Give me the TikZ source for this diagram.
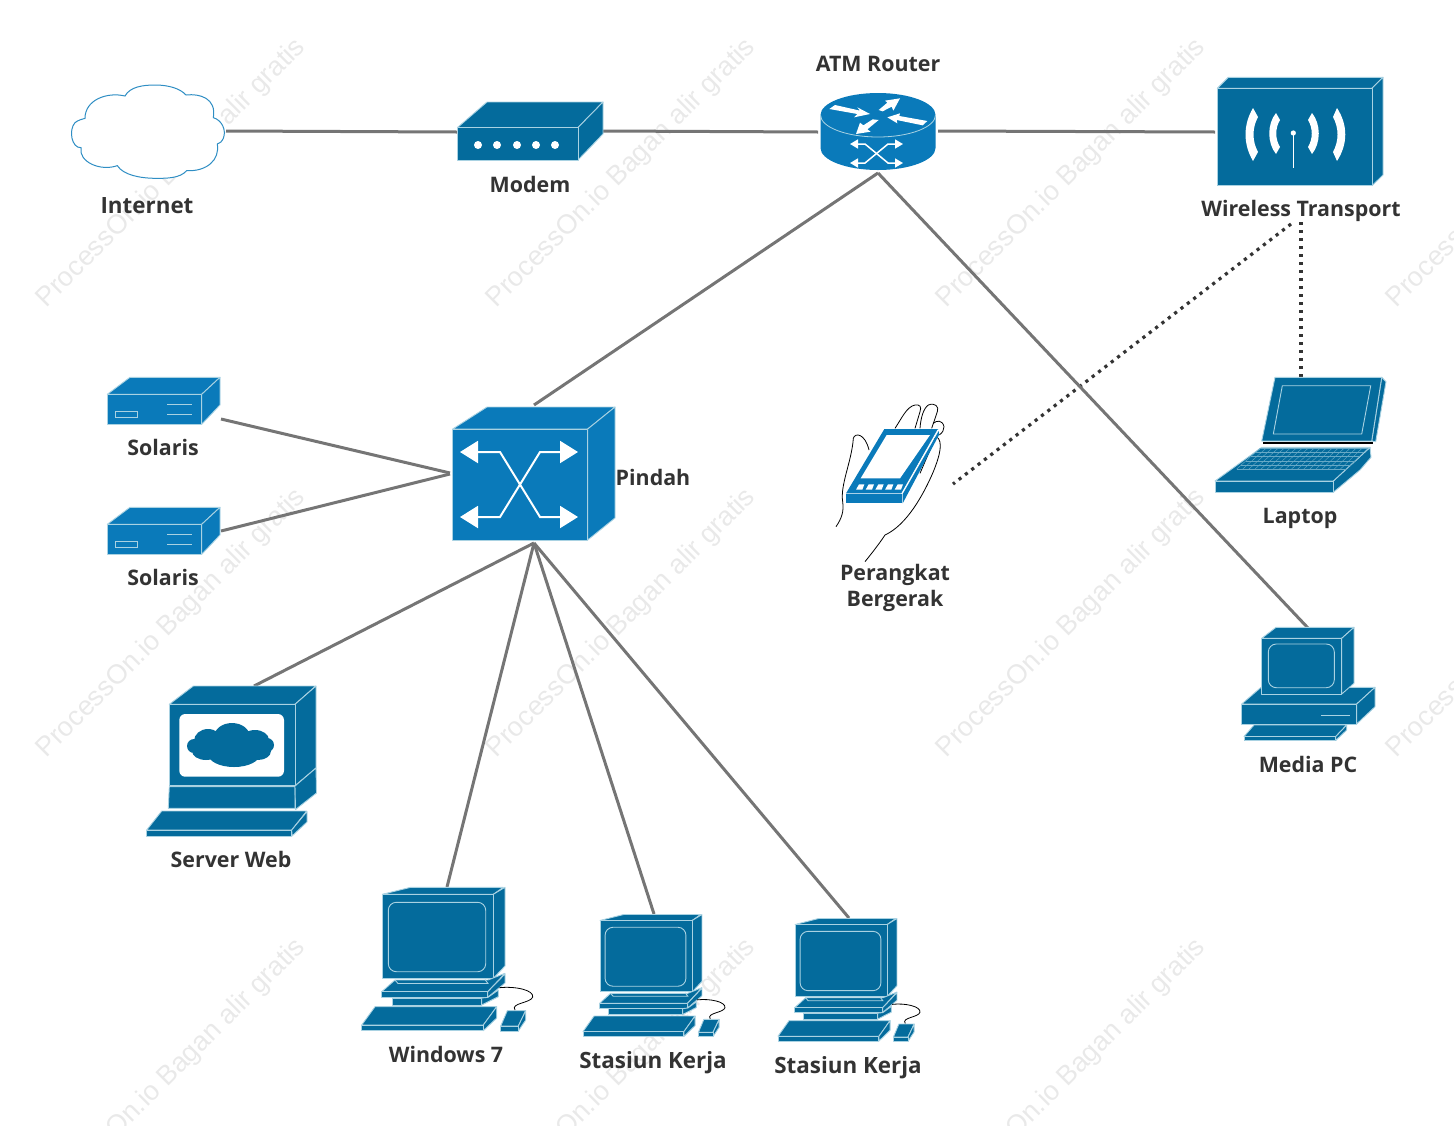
\documentclass[tikz,border=0pt]{standalone}
\usepackage{fontspec}
\setmainfont{Open Sans}
\newfontfamily\wmfont{Liberation Sans}
\usetikzlibrary{arrows.meta}
\definecolor{devblue}{HTML}{046B9C}
\definecolor{swblue}{HTML}{0A7ABA}
\definecolor{edgeblue}{HTML}{A9D2E2}
\definecolor{linkgray}{HTML}{757575}
\definecolor{labelgray}{HTML}{333333}
\definecolor{wmgray}{HTML}{E9E9E9}
\tikzset{
 dev/.style={fill=devblue,draw=edgeblue,line width=.45pt,line join=round},
 swdev/.style={fill=swblue,draw=edgeblue,line width=.45pt,line join=round},
 thinw/.style={draw=edgeblue,line width=.45pt},
 link/.style={draw=linkgray,line width=1.5pt},
 dotlink/.style={draw=labelgray,line width=1.6pt,dash pattern=on 1.6pt off 2.4pt},
 lab/.style={text=labelgray,font=\bfseries\fontsize{10.7}{13}\selectfont,align=center,inner sep=0pt},
 labbig/.style={lab,font=\bfseries\fontsize{11.2}{14}\selectfont},
 wm/.style={text=wmgray,font=\wmfont\fontsize{13.6}{15}\selectfont,rotate=45,inner sep=0pt},
 bigarrow/.style={draw=white,line width=1pt,{Triangle[length=9pt,width=11pt]}-{Triangle[length=9pt,width=11pt]}},
 smallarrow/.style={draw=white,line width=.75pt,{Triangle[length=4pt,width=4.5pt]}-{Triangle[length=4pt,width=4.5pt]}},
 workstation/.pic={
  \begin{scope}[shift={(-361.7,-887.3)}]
   \draw[dev] (382.3,894.3) -- (410.7,887.3) -- (503.3,887.3) -- (493.3,894.3) -- cycle;
   \draw[dev] (493.3,894.3) -- (505,887.3) -- (505,966) -- (493.3,978.3) -- cycle;
   \draw[dev] (382.3,894.3) rectangle (493.3,978.3);
   \draw[thinw,rounded corners=4pt] (388.3,902.3) rectangle (485.7,971.7);
   \draw[dev] (395,980) -- (381.7,991.7) -- (487.7,991.7) -- (505,973.3) -- (488,980) -- cycle;
   \draw[thinw] (395,980) -- (398,983.5) -- (488,983.5) -- (485,979.5);
   \draw[dev] (487.7,991.7) -- (505,974) -- (505,983) -- (487.7,997.3) -- cycle;
   \draw[dev] (381.7,991.7) rectangle (487.7,997.3);
   \draw[dev] (481.7,998) -- (488,997.3) -- (498.3,990) -- (498.3,996.7) -- (481.7,1005) -- cycle;
   \draw[dev] (392.3,998) rectangle (481.7,1005);
   \draw[dev] (375,1006.7) -- (496.7,1006.7) -- (483.3,1025) -- (361.7,1025) -- cycle;
   \draw[dev] (483.3,1025) -- (496.7,1006.7) -- (496.7,1018) -- (483.3,1030.7) -- cycle;
   \draw[dev] (361.7,1025) rectangle (483.3,1030.7);
   \draw[dev] (507.3,1010.7) -- (525.7,1010.7) -- (518.3,1026) -- (500.7,1026) -- cycle;
   \draw[dev] (518.3,1026) -- (525.7,1010.7) -- (525.7,1020) -- (518.3,1031) -- cycle;
   \draw[dev] (500.7,1026) rectangle (518.3,1031);
   \draw[black,line width=.4pt] (499.3,987.7) .. controls (515,986) and (534,990) .. (532.7,997) .. controls (531,1003) and (510,1003) .. (515,1010);
  \end{scope}
 },
 solarisbox/.pic={
  \begin{scope}[shift={(-107.3,-377.3)}]
   \draw[swdev] (107.3,394.3) -- (130,377.3) -- (220,377.3) -- (201.7,394.3) -- cycle;
   \draw[swdev] (201.7,394.3) -- (220,377.3) -- (220,405) -- (201.7,424.3) -- cycle;
   \draw[swdev] (107.3,394.3) rectangle (201.7,424.3);
   \draw[thinw] (115.7,411.3) rectangle (137.7,417);
   \draw[thinw] (167.3,404.3) -- (191.7,404.3) (167.3,414.3) -- (191.7,414.3);
  \end{scope}
 }
}
\begin{document}
\begin{tikzpicture}[x=.5pt,y=-.5pt]
\useasboundingbox (0,0) rectangle (1454,1125);
% watermark
\begin{scope}
 \clip (0,0) rectangle (1454,1125);
 \foreach \i in {0,1,2,3} \foreach \j in {0,1,2}
  \node[wm] (wm\i\j) at ({171.5+450*\i},{173.5+450*\j}) {ProcessOn.io Bagan alir gratis};
\end{scope}

% ports
\coordinate (inetR) at (226,131);
\coordinate (modemL) at (457,132);
\coordinate (modemR) at (603,131);
\coordinate (routerL) at (818,132);
\coordinate (routerR) at (938,131);
\coordinate (wirelessL) at (1215,132);
\coordinate (routerB) at (878,173);
\coordinate (switchT) at (534,405);
\coordinate (mediaT) at (1308,628);
\coordinate (wirelessB) at (1301,222);
\coordinate (wirelessBL) at (1291,224);
\coordinate (laptopT) at (1301,377);
\coordinate (mobileR) at (953,484);
\coordinate (solA) at (221,419);
\coordinate (solB) at (221,531);
\coordinate (switchLa) at (450,473);
\coordinate (switchLb) at (450,474);
\coordinate (switchB) at (534,543);
\coordinate (serverT) at (254,686);
\coordinate (winT) at (447,887);
\coordinate (wsaT) at (654,914);
\coordinate (wsbT) at (849,918);

% connectors
\draw[link] (inetR) -- (modemL);
\draw[link] (modemR) -- (routerL);
\draw[link] (routerR) -- (wirelessL);
\draw[link] (routerB) -- (switchT);
\draw[dotlink] (wirelessBL) -- (mobileR);
\draw[dotlink] (wirelessB) -- (laptopT);
\draw[link] (routerB) -- (mediaT);
\draw[link] (solA) -- (switchLa);
\draw[link] (solB) -- (switchLb);
\draw[link] (switchB) -- (serverT);
\draw[link] (switchB) -- (winT);
\draw[link] (switchB) -- (wsaT);
\draw[link] (switchB) -- (wsbT);

% Internet cloud
\begin{scope}[shift={(60,70)},scale=1/3]
 \draw[fill=white,draw=swblue!85,line width=.5pt] (195,78) .. controls (210,50) and (250,45) .. (285,45) .. controls (325,45) and (360,55) .. (378,75) .. controls (420,70) and (470,85) .. (460,143) .. controls (485,150) and (500,180) .. (490,205) .. controls (485,215) and (480,220) .. (472,222) .. controls (480,270) and (440,305) .. (380,302) .. controls (360,325) and (320,325) .. (290,325) .. controls (240,325) and (190,315) .. (172,287) .. controls (120,305) and (55,275) .. (63,233) .. controls (35,235) and (25,180) .. (45,158) .. controls (55,150) and (65,148) .. (75,145) .. controls (75,90) and (140,65) .. (195,78) -- cycle;
\end{scope}

% Modem
\draw[dev] (457.5,127.5) -- (487,102) -- (603,102) -- (578,127.5) -- cycle;
\draw[dev] (578,127.5) -- (603,102) -- (603,134) -- (578,160) -- cycle;
\draw[dev] (457.5,127.5) rectangle (578,160);
\foreach \x in {478,497,517,536,555} \fill[white] (\x,145) circle (2pt);

% Router
\fill[swblue] (820.5,115) -- (820.5,148) arc[x radius=57.5,y radius=22,start angle=180,end angle=0] -- (935.5,115) arc[x radius=57.5,y radius=22,start angle=0,end angle=-180] -- cycle;
\draw[thinw,line width=.4pt] (820.5,115) arc[x radius=57.5,y radius=22,start angle=180,end angle=0];
\begin{scope}[shift={(800,40)},scale=1/3]
 \fill[white] (88,207) -- (105,195) -- (180,212) -- (172,202) -- (210,222) -- (162,232) -- (172,222) -- cycle;
 \fill[white] (236,210) -- (262,188) -- (255,182) -- (300,175) -- (280,212) -- (275,200) -- (248,214) -- cycle;
 \fill[white] (262,232) -- (300,220) -- (298,228) -- (382,243) -- (368,256) -- (290,240) -- (292,250) -- cycle;
 \fill[white] (168,282) -- (180,248) -- (190,256) -- (218,238) -- (236,240) -- (202,268) -- (212,275) -- cycle;
\end{scope}
\draw[smallarrow] (850,144) -- (865,144) -- (888,163) -- (903,163);
\draw[smallarrow] (850,163) -- (865,163) -- (888,144) -- (903,144);

% Wireless transport
\draw[dev] (1217.3,88.3) -- (1228.3,77.3) -- (1383,77.3) -- (1372,88.3) -- cycle;
\draw[dev] (1372,88.3) -- (1383,77.3) -- (1383,175) -- (1372,185.7) -- cycle;
\draw[dev] (1217.3,88.3) rectangle (1372,185.7);
\fill[white] (1253,108) -- (1258,117) .. controls (1252,128) and (1252,141) .. (1258,152) -- (1253,161) .. controls (1243,144) and (1243,125) .. cycle;
\fill[white] (1276,113) -- (1280,120) .. controls (1275,128) and (1275,139) .. (1280,147) -- (1276,154) .. controls (1267,143) and (1267,124) .. cycle;
\fill[white] (1312,113) -- (1308,120) .. controls (1313,128) and (1313,139) .. (1308,147) -- (1312,154) .. controls (1321,143) and (1321,124) .. cycle;
\fill[white] (1337,108) -- (1333,117) .. controls (1339,128) and (1339,141) .. (1333,152) -- (1337,161) .. controls (1348,144) and (1348,125) .. cycle;
\fill[white] (1293.3,133) circle (1.3pt);
\draw[white,line width=.4pt] (1293.5,133) -- (1293.5,168);

% Switch
\draw[swdev] (452.7,429) -- (487,407) -- (615,407) -- (587.7,429) -- cycle;
\draw[swdev] (587.7,429) -- (615,407) -- (615,518) -- (587.7,540) -- cycle;
\draw[swdev] (452.7,429) rectangle (587.7,540);
\draw[bigarrow] (460,452) -- (500,452) -- (540,517) -- (578,517);
\draw[bigarrow] (460,517) -- (500,517) -- (540,452) -- (578,452);

% Solaris
\pic at (107.3,377.3) {solarisbox};
\pic at (107.3,507.3) {solarisbox};

% Server web
\draw[dev] (169.3,704.3) -- (193.3,686) -- (315.7,686) -- (295,704.3) -- cycle;
\draw[dev] (295,704.3) -- (316,686) -- (316,768) -- (295,785.7) -- cycle;
\draw[dev] (169.3,704.3) rectangle (295,785.7);
\draw[dev] (169.3,786.7) -- (168.3,808.3) -- (295,808.3) -- (295,786.7) -- cycle;
\draw[dev] (295,786) -- (316,768) -- (316.5,793) -- (295.5,809.5) -- cycle;
\draw[dev] (161.7,811) -- (306.7,811) -- (291.7,830) -- (146.7,830) -- cycle;
\draw[dev] (291.7,830) -- (307,811.5) -- (307,822) -- (292,836) -- cycle;
\draw[dev] (146.7,830.7) rectangle (291.7,836);
\fill[white,rounded corners=3pt] (179.3,714) rectangle (284,776.7);
\fill[devblue]
 (232,737) ellipse [x radius=18,y radius=14]
 (208,741) ellipse [x radius=14,y radius=12]
 (255,740) ellipse [x radius=14,y radius=10]
 (194,746) ellipse [x radius=7,y radius=7]
 (267,745) ellipse [x radius=7,y radius=7]
 (206,751) ellipse [x radius=14,y radius=9]
 (234,754) ellipse [x radius=26,y radius=13]
 (258,751) ellipse [x radius=13,y radius=9];

% Workstations
\pic at (361.7,887.3) {workstation};
\pic[xscale=.83,yscale=.85] at (583,914.5) {workstation};
\pic[xscale=.83,yscale=.855] at (778,918.5) {workstation};

% Mobile device with hand
\begin{scope}[shift={(820,395)},scale=1/3]
 \begin{scope}[draw=black,line width=.4pt]
 \draw (48,395) .. controls (65,370) and (72,350) .. (68,320) .. controls (60,270) and (95,200) .. (100,130) .. controls (105,112) and (135,115) .. (147,165);
 \draw (225,100) .. controls (245,70) and (260,35) .. (285,30) .. controls (300,28) and (305,35) .. (300,50) -- (285,100);
 \draw (300,100) .. controls (302,70) and (310,40) .. (325,30) .. controls (345,22) and (358,35) .. (352,50) -- (335,100);
 \draw (340,85) .. controls (350,75) and (368,75) .. (372,95) .. controls (372,105) and (368,112) .. (358,120);
 \draw (350,125) .. controls (370,140) and (360,180) .. (340,230) .. controls (310,300) and (260,390) .. (195,420) .. controls (175,450) and (155,475) .. (135,500);
 \draw (300,235) -- (345,130);
 \end{scope}
 \fill[swblue] (193,102) -- (355,102) -- (245,295) -- (78,295) -- cycle;
 \fill[white] (200,120) -- (330,120) -- (240,250) -- (122,250) -- cycle;
 \foreach \x in {0,1,2,3,4}
  \fill[white] ({117+29*\x},268) -- ({133+29*\x},268) -- ({127+29*\x},284) -- ({108+29*\x},284) -- cycle;
 \fill[swblue] (78,297) rectangle (245,325);
 \fill[swblue] (248,297) -- (356,108) -- (358,118) -- (248,325) -- cycle;
 \draw[white,line width=.4pt] (245,296) -- (354,104);
\end{scope}

% Laptop
\draw[dev] (1381.7,377.3) -- (1386,381.7) -- (1375.7,441.7) -- (1371.7,441) -- cycle;
\draw[dev] (1275,377.3) -- (1381.7,377.3) -- (1371.7,441) -- (1261.7,441) -- cycle;
\draw[thinw] (1282.3,385.7) -- (1370.7,385.7) -- (1361.7,434) -- (1273.3,434) -- cycle;
\draw[dev] (1333.3,481) -- (1370,447.3) -- (1371,457.3) -- (1360,470) -- (1333.3,492.3) -- cycle;
\draw[dev] (1261.7,447.3) -- (1370,447.3) -- (1333.3,481) -- (1215,481) -- cycle;
\draw[dev] (1215,481) rectangle (1333.3,492.3);
\draw[black,line width=1pt] (1263.3,443) -- (1373.3,443);
\begin{scope}[draw=edgeblue!60!devblue,line width=.2pt]
 \foreach \t in {0,.2,.4,.6,.8,1}
  \draw ({1260-23.3*\t},{448.3+20.7*\t}) -- ({1368-21.3*\t},{448.3+20.7*\t});
 \foreach \s in {0,...,18}
  \draw ({1260+6*\s},448.3) -- ({1236.7+6.1*\s},469);
\end{scope}

% Media PC
\draw[dev] (1241.7,704) -- (1261,687.3) -- (1375,687.3) -- (1356.7,704) -- cycle;
\draw[dev] (1356.7,704) -- (1375,687.3) -- (1375,706.7) -- (1356.7,724) -- cycle;
\draw[dev] (1241.7,704) rectangle (1356.7,724);
\draw[thinw] (1321,715) -- (1350,715);
\draw[dev] (1261.7,638.3) -- (1276,627.3) -- (1354,627.3) -- (1341.7,638.3) -- cycle;
\draw[dev] (1341.7,638.3) -- (1354,627.3) -- (1354,683.3) -- (1341.7,694) -- cycle;
\draw[dev] (1261.7,638.3) rectangle (1341.7,694);
\draw[thinw,rounded corners=4pt] (1268.3,644) rectangle (1334.3,687.7);
\draw[dev] (1254,725) -- (1346.7,725) -- (1335.7,736.5) -- (1244,736.5) -- cycle;
\draw[dev] (1335.7,736.5) -- (1346.7,725) -- (1346.7,730) -- (1335.7,740.5) -- cycle;
\draw[dev] (1244,736.5) rectangle (1335.7,740.5);

% Labels
\node[labbig] (lInternet) at (147,206) {Internet};
\node[lab] (lModem) at (530,184) {Modem};
\node[lab] (lRouter) at (878,64) {ATM Router};
\node[lab] (lWireless) at (1301,211) {Wireless Transport};
\node[lab] (lSwitch) at (653,477) {Pindah};
\node[lab] (lSolA) at (163,447) {Solaris};
\node[lab] (lSolB) at (163,577) {Solaris};
\node[lab] (lServer) at (231,859) {Server Web};
\node[lab] (lWin) at (446,1054) {Windows 7};
\node[labbig] (lWsA) at (653,1063) {Stasiun Kerja};
\node[labbig] (lWsB) at (848,1068) {Stasiun Kerja};
\node[lab] (lLaptop) at (1300,518) {Laptop};
\node[lab] (lMobile) at (895,588) {Perangkat\\Bergerak};
\node[lab] (lMedia) at (1308,764) {Media PC};
\end{tikzpicture}
\end{document}
